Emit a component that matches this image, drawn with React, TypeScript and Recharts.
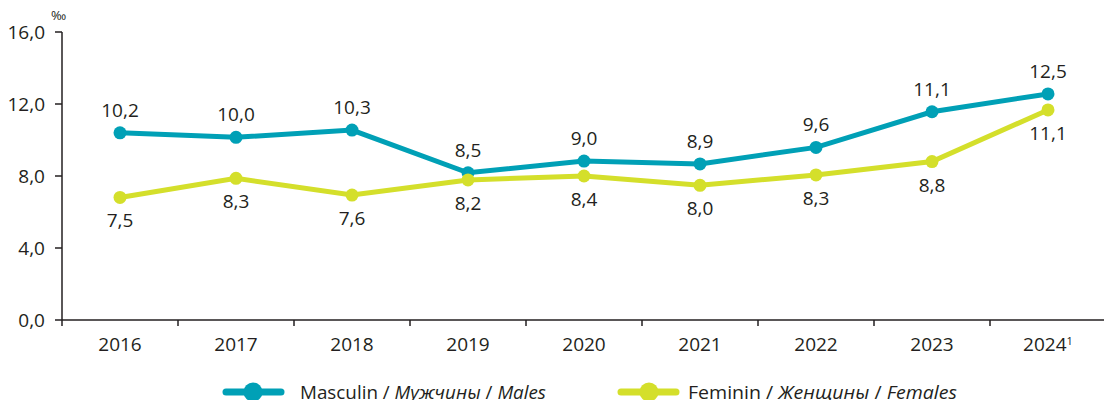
import React from 'react';
import { LineChart, Line, XAxis, YAxis, Legend, LabelList } from 'recharts';

const years = ['2016', '2017', '2018', '2019', '2020', '2021', '2022', '2023', '2024'];
// plotted positions
const maleValues = [10.4, 10.15, 10.55, 8.18, 8.83, 8.67, 9.59, 11.57, 12.56];
const femaleValues = [6.81, 7.87, 6.94, 7.78, 8.0, 7.48, 8.06, 8.8, 11.67];
// printed data labels
const maleLabels = ['10,2', '10,0', '10,3', '8,5', '9,0', '8,9', '9,6', '11,1', '12,5'];
const femaleLabels = ['7,5', '8,3', '7,6', '8,2', '8,4', '8,0', '8,3', '8,8', '11,1'];
const yTicks = [0, 4, 8, 12, 16];
const footnoteYear = '2024';

const MALE = '#00A0B6';
const FEMALE = '#D4DF2B';
const INK = '#231F20';
const FONT = '"Open Sans", sans-serif';

const data = years.map((y, i) => ({
  year: y,
  male: maleValues[i],
  female: femaleValues[i],
  maleLabel: maleLabels[i],
  femaleLabel: femaleLabels[i],
}));

const XTick = (props: any) => {
  const { x, y, payload } = props;
  const v = String(payload.value);
  return (
    <g>
      <line x1={x - 58} x2={x - 58} y1={y - 18} y2={y - 12} stroke={INK} strokeWidth={1.5} />
      <text x={x} y={y} dy="0.71em" textAnchor="middle" fill={INK} fontSize={19} fontFamily={FONT}>
        {v}
        {v === footnoteYear ? (
          <tspan dy="-0.55em" fontSize={11}>1</tspan>
        ) : null}
      </text>
    </g>
  );
};

const makeLabel = (offset: number) => (props: any) => {
  const { x, y, value } = props;
  return (
    <text x={x} y={y + offset} textAnchor="middle" fill={INK} fontSize={19} fontFamily={FONT}>
      {value}
    </text>
  );
};

const LegendContent = () => (
  <div style={{ position: 'relative', height: 40, width: 1104 }}>
    <svg width={1104} height={40} style={{ display: 'block' }}>
      <line x1={226} x2={281} y1={32} y2={32} stroke={MALE} strokeWidth={7} strokeLinecap="round" />
      <circle cx={253} cy={32} r={9.5} fill={MALE} />
      <text x={300} y={32} dy="0.355em" fontSize={19} fontFamily={FONT} fill={INK} textLength={246} lengthAdjust="spacingAndGlyphs">
        Masculin / <tspan fontStyle="italic">Мужчины</tspan> / <tspan fontStyle="italic">Males</tspan>
      </text>
      <line x1={621} x2={676} y1={32} y2={32} stroke={FEMALE} strokeWidth={7} strokeLinecap="round" />
      <circle cx={649} cy={32} r={9.5} fill={FEMALE} />
      <text x={688} y={32} dy="0.355em" fontSize={19} fontFamily={FONT} fill={INK} textLength={269} lengthAdjust="spacingAndGlyphs">
        Feminin / <tspan fontStyle="italic">Женщины</tspan> / <tspan fontStyle="italic">Females</tspan>
      </text>
    </svg>
  </div>
);

export default function App() {
  return (
    <div style={{ position: 'absolute', left: 0, top: 0, width: 1104, height: 400, overflow: 'hidden', background: '#fff' }}>
      <LineChart width={1106} height={400} data={data} margin={{ top: 32, right: 0, bottom: 0, left: 0 }}>
        <XAxis
          dataKey="year"
          scale="band"
          height={40}
          tickLine={false}
          tickSize={0}
          tickMargin={18}
          tick={<XTick />}
          axisLine={{ stroke: INK, strokeWidth: 1.5 }}
          interval={0}
        />
        <YAxis
          width={62}
          domain={[0, 16]}
          ticks={yTicks}
          tickSize={7}
          tickMargin={10}
          tickFormatter={(v: number) => v.toFixed(1).replace('.', ',')}
          tick={{ fill: INK, fontSize: 19, fontFamily: FONT }}
          tickLine={{ stroke: INK, strokeWidth: 1.5 }}
          axisLine={{ stroke: INK, strokeWidth: 1.5 }}
          label={(p: any) => (
            <text x={51} y={20} fontSize={13} fontFamily={FONT} fill={INK}>‰</text>
          )}
        />
        <Legend verticalAlign="bottom" height={40} content={<LegendContent />} />
        <Line
          dataKey="male"
          stroke={MALE}
          strokeWidth={5}
          dot={{ r: 6.5, fill: MALE, stroke: MALE, strokeWidth: 0 }}
          isAnimationActive={false}
        >
          <LabelList dataKey="maleLabel" content={makeLabel(-16)} />
        </Line>
        <Line
          dataKey="female"
          stroke={FEMALE}
          strokeWidth={5}
          dot={{ r: 6.5, fill: FEMALE, stroke: FEMALE, strokeWidth: 0 }}
          isAnimationActive={false}
        >
          <LabelList dataKey="femaleLabel" content={makeLabel(30)} />
        </Line>
      </LineChart>
    </div>
  );
}
